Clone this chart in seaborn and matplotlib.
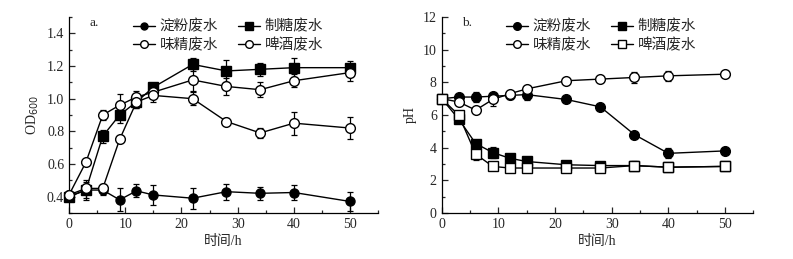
import numpy as np
import pandas as pd
import matplotlib
matplotlib.use('Agg')
import matplotlib.pyplot as plt
import seaborn as sns
from matplotlib.ticker import MultipleLocator
from matplotlib.lines import Line2D

sns.set_style('ticks')
plt.rcParams['font.family'] = ['Liberation Serif', 'Noto Sans CJK SC']
plt.rcParams['axes.unicode_minus'] = False

# time points (h)
hours = [0, 3, 6, 9, 12, 15, 22, 28, 34, 40, 50]
names = ['淀粉废水', '制糖废水', '味精废水', '啤酒废水']

# a. OD600
od_starch = [0.40, 0.44, 0.44, 0.38, 0.435, 0.41, 0.39, 0.43, 0.42, 0.425, 0.37]
od_starch_err = [0.03, 0.05, 0.03, 0.07, 0.04, 0.06, 0.065, 0.05, 0.04, 0.045, 0.06]
od_sugar = [0.40, 0.44, 0.77, 0.90, 0.98, 1.07, 1.21, 1.17, 1.18, 1.19, 1.19]
od_sugar_err = [0.02, 0.06, 0.04, 0.05, 0.04, 0.02, 0.04, 0.07, 0.04, 0.06, 0.04]
od_msg = [0.41, 0.61, 0.90, 0.96, 1.01, 1.04, 1.115, 1.075, 1.055, 1.11, 1.16]
od_msg_err = [0.0, 0.0, 0.03, 0.07, 0.04, 0.03, 0.065, 0.05, 0.045, 0.04, 0.05]
od_beer = [0.41, 0.45, 0.45, 0.75, 0.98, 1.02, 1.00, 0.86, 0.79, 0.85, 0.82]
od_beer_err = [0.0, 0.03, 0.03, 0.0, 0.04, 0.04, 0.04, 0.02, 0.03, 0.07, 0.07]

# b. pH
ph_starch = [7.0, 7.1, 7.1, 7.15, 7.2, 7.25, 6.95, 6.5, 4.8, 3.65, 3.8]
ph_starch_err = [0.1, 0.1, 0.3, 0.15, 0.2, 0.35, 0.1, 0.1, 0.1, 0.3, 0.1]
ph_sugar = [7.0, 5.75, 4.25, 3.7, 3.35, 3.15, 2.95, 2.9, 2.9, 2.8, 2.85]
ph_sugar_err = [0.1, 0.15, 0.2, 0.35, 0.2, 0.15, 0.1, 0.1, 0.3, 0.1, 0.1]
ph_msg = [7.0, 6.8, 6.3, 6.95, 7.3, 7.6, 8.1, 8.2, 8.3, 8.4, 8.5]
ph_msg_err = [0.1, 0.1, 0.1, 0.4, 0.1, 0.1, 0.1, 0.2, 0.35, 0.3, 0.1]
ph_beer = [7.0, 6.0, 3.6, 2.85, 2.75, 2.75, 2.75, 2.75, 2.9, 2.8, 2.85]
ph_beer_err = [0.1, 0.1, 0.35, 0.1, 0.1, 0.1, 0.1, 0.1, 0.1, 0.1, 0.1]

styles_a = [('o', 'black', 6.5), ('s', 'black', 7), ('o', 'white', 7), ('o', 'white', 7)]
styles_b = [('o', 'black', 7), ('s', 'black', 7), ('o', 'white', 7), ('s', 'white', 7)]


def draw_panel(ax, series, errs, styles):
    for name, vals, err, (m, fc, ms) in zip(names, series, errs, styles):
        df = pd.DataFrame({'t': hours, 'v': vals})
        ax.errorbar(hours, vals, yerr=err, fmt='none', ecolor='black',
                    elinewidth=0.9, capsize=2.5, capthick=0.9, zorder=2,
                    clip_on=False)
        sns.lineplot(data=df, x='t', y='v', ax=ax, color='black', lw=1.0,
                     marker=m, markersize=ms, markerfacecolor=fc,
                     markeredgecolor='black', markeredgewidth=1.0, zorder=3,
                     clip_on=False)
    ax.set_xlim(0, 55)
    ax.xaxis.set_major_locator(MultipleLocator(10))
    ax.xaxis.set_minor_locator(MultipleLocator(5))
    ax.tick_params(which='both', direction='in', labelsize=10, width=0.9)
    ax.tick_params(which='major', length=4)
    ax.tick_params(which='minor', length=2.5)
    sns.despine(ax=ax)
    for s in ['left', 'bottom']:
        ax.spines[s].set_linewidth(0.9)
        ax.spines[s].set_color('black')
    ax.set_xlabel('时间/h', fontsize=10, labelpad=3)
    handles = [Line2D([0], [0], color='black', lw=1.0, marker=m, markersize=ms - 1.5,
                      markerfacecolor=fc, markeredgecolor='black')
               for (m, fc, ms) in styles]
    # row-wise order for a 2-column legend
    order = [0, 2, 1, 3]
    ax.legend([handles[i] for i in order], [names[i] for i in order], ncol=2,
              frameon=False, loc='upper left', bbox_to_anchor=(0.165, 1.055),
              handlelength=1.5, handletextpad=0.3, columnspacing=1.4,
              labelspacing=0.3, fontsize=10.5)


fig = plt.figure(figsize=(7.93, 2.59), dpi=100)
ax1 = fig.add_axes([0.087, 0.178, 0.39, 0.756])
ax2 = fig.add_axes([0.557, 0.178, 0.393, 0.756])

draw_panel(ax1, [od_starch, od_sugar, od_msg, od_beer],
           [od_starch_err, od_sugar_err, od_msg_err, od_beer_err], styles_a)
ax1.set_ylim(0.3, 1.5)
ax1.yaxis.set_major_locator(MultipleLocator(0.2))
ax1.yaxis.set_minor_locator(MultipleLocator(0.1))
ax1.set_ylabel('OD$_{600}$', fontsize=10)
ax1.text(0.065, 1.0, 'a.', transform=ax1.transAxes, fontsize=9.5, va='top')

draw_panel(ax2, [ph_starch, ph_sugar, ph_msg, ph_beer],
           [ph_starch_err, ph_sugar_err, ph_msg_err, ph_beer_err], styles_b)
ax2.set_ylim(0, 12)
ax2.yaxis.set_major_locator(MultipleLocator(2))
ax2.yaxis.set_minor_locator(MultipleLocator(1))
ax2.set_ylabel('pH', fontsize=10)
ax2.text(0.065, 1.0, 'b.', transform=ax2.transAxes, fontsize=9.5, va='top')

fig.savefig('out.png', dpi=100)
